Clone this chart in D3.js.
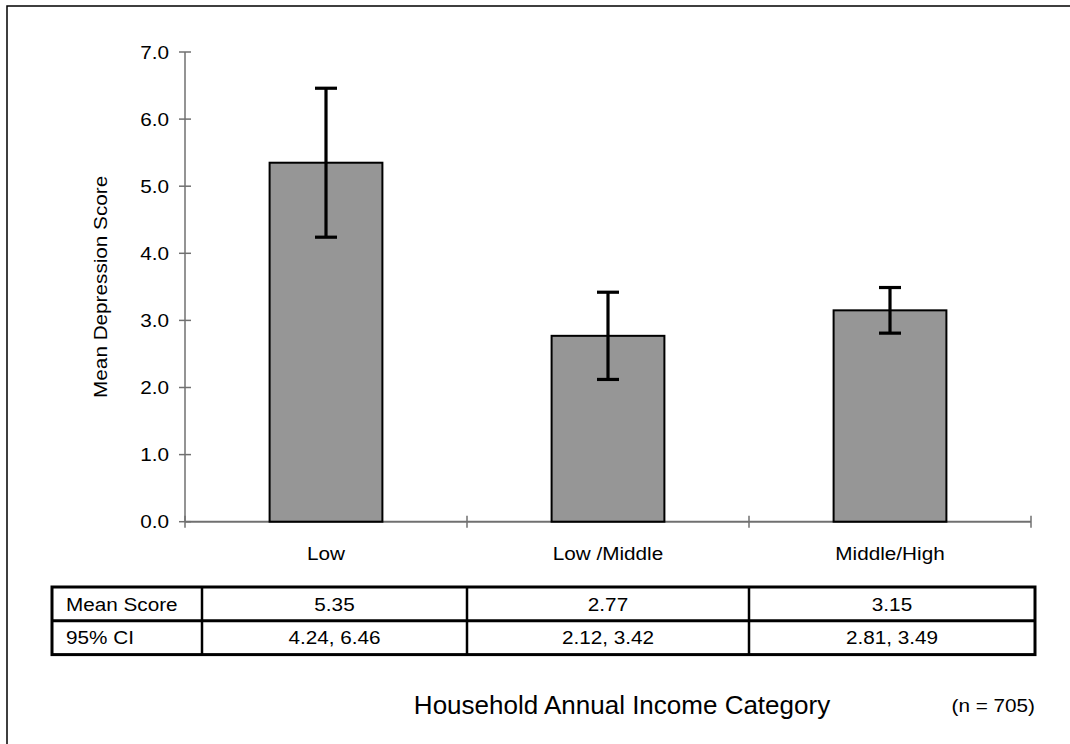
<!DOCTYPE html>
<html>
<head>
<meta charset="utf-8">
<script src="https://cdn.jsdelivr.net/npm/d3@7"></script>
<style>
  html, body { margin: 0; padding: 0; background: #fff; }
  svg { display: block; }
  text { font-family: "Liberation Sans", Arial, sans-serif; fill: #000; }
</style>
</head>
<body>
<svg id="chart" width="1070" height="744"></svg>
<script>
// Mean depression score by household income, with 95% confidence intervals
const categories = ["Low", "Low /Middle", "Middle/High"];
const meanScores = [5.35, 2.77, 3.15];
const ciLower = [4.24, 2.12, 2.81];
const ciUpper = [6.46, 3.42, 3.49];
const yTicks = [0, 1, 2, 3, 4, 5, 6, 7];
const tableRowLabels = ["Mean Score", "95% CI"];
const sampleNote = "(n = 705)";
const xTitle = "Household Annual Income Category";
const yTitle = "Mean Depression Score";

const svg = d3.select("#chart");
const FS = 18.5;      // base font size
const SX = 1.12;      // horizontal text stretch

// chart area frame
svg.append("rect")
  .attr("x", 7).attr("y", 6).attr("width", 1100).attr("height", 800)
  .attr("fill", "none").attr("stroke", "#000").attr("stroke-width", 1.5);

const x = d3.scaleBand().domain(categories).range([185, 1031])
  .paddingInner(0.6).paddingOuter(0.3);
const y = d3.scaleLinear().domain([0, 7]).range([521.7, 52]);

function stretchedText(g, tx, ty, str, anchor, rot) {
  return g.append("text")
    .attr("transform", `translate(${tx},${ty})` + (rot ? ` rotate(${rot})` : "") + ` scale(${SX},1)`)
    .attr("text-anchor", anchor)
    .style("font-size", FS + "px")
    .text(str);
}

// y axis
const axisColor = "#707070";
const yAxis = svg.append("g");
yAxis.append("line").attr("x1", 185).attr("x2", 185)
  .attr("y1", y(7)).attr("y2", y(0))
  .attr("stroke", axisColor).attr("stroke-width", 1.5);
yTicks.forEach(t => {
  yAxis.append("line").attr("x1", 179).attr("x2", 191)
    .attr("y1", y(t)).attr("y2", y(t))
    .attr("stroke", axisColor).attr("stroke-width", 1.5);
  stretchedText(yAxis, 169, y(t) + 6.6, d3.format(".1f")(t), "end");
});
stretchedText(svg, 107, (y(0) + y(7)) / 2, yTitle, "middle", -90);

// x axis with category boundary ticks
const step = x.step();
const x0 = x.range()[0];
const boundaries = d3.range(categories.length + 1).map(i => x0 + i * step);
svg.append("line").attr("x1", x0).attr("x2", boundaries[boundaries.length - 1])
  .attr("y1", y(0)).attr("y2", y(0))
  .attr("stroke", axisColor).attr("stroke-width", 2);
boundaries.forEach(b => {
  svg.append("line").attr("x1", b).attr("x2", b)
    .attr("y1", y(0) - 6).attr("y2", y(0) + 6)
    .attr("stroke", axisColor).attr("stroke-width", 1.5);
});

// bars
svg.append("g").selectAll("rect").data(categories).join("rect")
  .attr("x", d => x(d))
  .attr("y", (d, i) => y(meanScores[i]))
  .attr("width", x.bandwidth())
  .attr("height", (d, i) => y(0) - y(meanScores[i]))
  .attr("fill", "#969696")
  .attr("stroke", "#000").attr("stroke-width", 2);

// error bars
const err = svg.append("g").attr("stroke", "#000").attr("stroke-width", 3.2);
categories.forEach((c, i) => {
  const cx = x(c) + x.bandwidth() / 2;
  err.append("line").attr("x1", cx).attr("x2", cx)
    .attr("y1", y(ciLower[i])).attr("y2", y(ciUpper[i]));
  [ciLower[i], ciUpper[i]].forEach(v => {
    err.append("line").attr("x1", cx - 11).attr("x2", cx + 11)
      .attr("y1", y(v)).attr("y2", y(v));
  });
});

// category labels
categories.forEach(c => {
  stretchedText(svg, x(c) + x.bandwidth() / 2, 560, c, "middle");
});

// data table below the axis
const tTop = 587, rowH = 33.8;
const colEdges = [52, 202].concat(boundaries.slice(1, -1), [1035]);
const tBottom = tTop + rowH * tableRowLabels.length;
const tbl = svg.append("g");
tbl.append("rect").attr("x", colEdges[0]).attr("y", tTop)
  .attr("width", colEdges[colEdges.length - 1] - colEdges[0]).attr("height", tBottom - tTop)
  .attr("fill", "none").attr("stroke", "#000").attr("stroke-width", 3);
for (let r = 1; r < tableRowLabels.length; r++) {
  tbl.append("line").attr("x1", colEdges[0]).attr("x2", colEdges[colEdges.length - 1])
    .attr("y1", tTop + r * rowH).attr("y2", tTop + r * rowH)
    .attr("stroke", "#000").attr("stroke-width", 3);
}
colEdges.slice(1, -1).forEach(cx => {
  tbl.append("line").attr("x1", cx).attr("x2", cx)
    .attr("y1", tTop).attr("y2", tBottom)
    .attr("stroke", "#000").attr("stroke-width", 2.5);
});
const rowValues = [
  meanScores.map(v => d3.format(".2f")(v)),
  ciLower.map((lo, i) => d3.format(".2f")(lo) + ", " + d3.format(".2f")(ciUpper[i]))
];
tableRowLabels.forEach((lab, r) => {
  const by = tTop + r * rowH + 23.5;
  stretchedText(tbl, 66, by, lab, "start");
  rowValues[r].forEach((val, i) => {
    stretchedText(tbl, (colEdges[i + 1] + colEdges[i + 2]) / 2, by, val, "middle");
  });
});

// axis title and sample size
svg.append("text").attr("x", 622).attr("y", 714)
  .attr("text-anchor", "middle").style("font-size", "26px").text(xTitle);
stretchedText(svg, 1035, 712, sampleNote, "end");
</script>
</body>
</html>
